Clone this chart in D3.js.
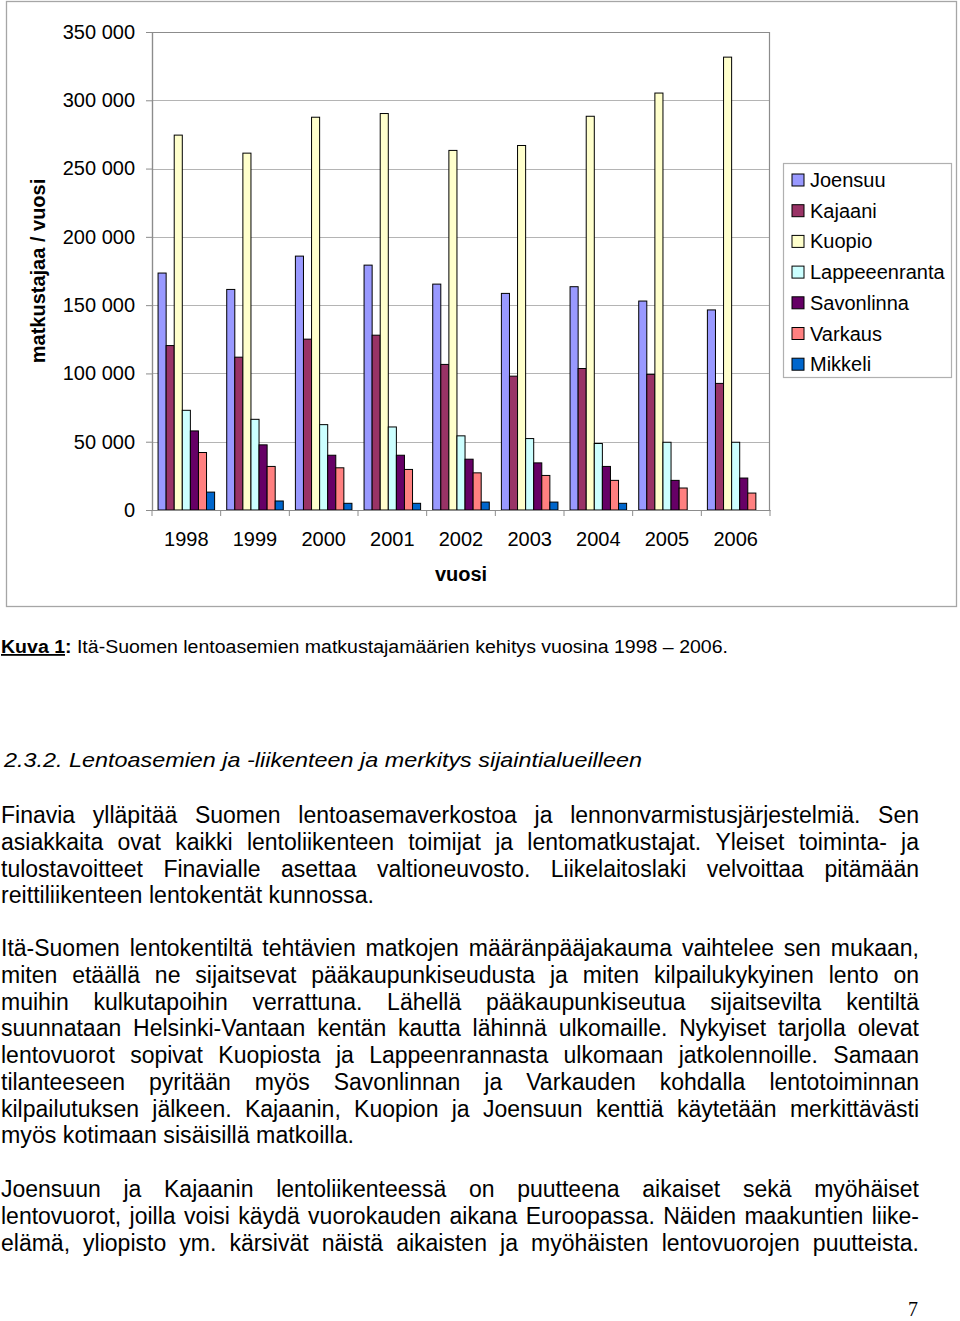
<!DOCTYPE html>
<html>
<head>
<meta charset="utf-8">
<script src="https://cdn.jsdelivr.net/npm/d3@7"></script>
<style>
  html, body { margin: 0; padding: 0; background: #fff; }
  svg { display: block; }
</style>
</head>
<body>
<svg id="page" width="960" height="1321"></svg>
<script>
// ---------- DATA ----------
const years = ["1998","1999","2000","2001","2002","2003","2004","2005","2006"];
const seriesNames = ["Joensuu","Kajaani","Kuopio","Lappeeenranta","Savonlinna","Varkaus","Mikkeli"];
const seriesColors = ["#9999FF","#993366","#FFFFCC","#CCFFFF","#660066","#FF8080","#0066CC"];
const joensuu      = [173500,161500,185900,179300,165400,158600,163500,153000,146500];
const kajaani      = [120400,111900,125100,128000,106600, 98000,103600, 99300, 92700];
const kuopio       = [274500,261300,287600,290300,263300,266900,288300,305300,331600];
const lappeenranta = [ 73000, 66400, 62500, 60800, 54300, 52300, 48700, 49600, 49600];
const savonlinna   = [ 57900, 47700, 40100, 40100, 37200, 34500, 31900, 21700, 23400];
const varkaus      = [ 42100, 31900, 30900, 29700, 27200, 25300, 21700, 16100, 12400];
const mikkeli      = [ 13100,  6600,  4900,  4900,  5800,  5800,  4900,     0,     0];
const yTicks = [0,50000,100000,150000,200000,250000,300000,350000];
const yTitle = "matkustajaa / vuosi";
const xTitle = "vuosi";

const captionBold = "Kuva 1";
const captionRest = "  Itä-Suomen lentoasemien matkustajamäärien kehitys vuosina 1998 – 2006.";
const heading = "2.3.2. Lentoasemien ja -liikenteen ja merkitys sijaintialueilleen";
const para1 = [
  "Finavia ylläpitää Suomen lentoasemaverkostoa ja lennonvarmistusjärjestelmiä. Sen",
  "asiakkaita ovat kaikki lentoliikenteen toimijat ja lentomatkustajat. Yleiset toiminta- ja",
  "tulostavoitteet Finavialle asettaa valtioneuvosto. Liikelaitoslaki velvoittaa pitämään",
  "reittiliikenteen lentokentät kunnossa."
];
const para2 = [
  "Itä-Suomen lentokentiltä tehtävien matkojen määränpääjakauma vaihtelee sen mukaan,",
  "miten etäällä ne sijaitsevat pääkaupunkiseudusta ja miten kilpailukykyinen lento on",
  "muihin kulkutapoihin verrattuna. Lähellä pääkaupunkiseutua sijaitsevilta kentiltä",
  "suunnataan Helsinki-Vantaan kentän kautta lähinnä ulkomaille. Nykyiset tarjolla olevat",
  "lentovuorot sopivat Kuopiosta ja Lappeenrannasta ulkomaan jatkolennoille. Samaan",
  "tilanteeseen pyritään myös Savonlinnan ja Varkauden kohdalla lentotoiminnan",
  "kilpailutuksen jälkeen. Kajaanin, Kuopion ja Joensuun kenttiä käytetään merkittävästi",
  "myös kotimaan sisäisillä matkoilla."
];
const para3 = [
  "Joensuun ja Kajaanin lentoliikenteessä on puutteena aikaiset sekä myöhäiset",
  "lentovuorot, joilla voisi käydä vuorokauden aikana Euroopassa. Näiden maakuntien liike-",
  "elämä, yliopisto ym. kärsivät näistä aikaisten ja myöhäisten lentovuorojen puutteista."
];
const pageNumber = "7";

const seriesValues = [joensuu, kajaani, kuopio, lappeenranta, savonlinna, varkaus, mikkeli];

// ---------- CHART ----------
const svg = d3.select("#page");
const FONT = "'Liberation Sans', Arial, Helvetica, sans-serif";

// outer chart frame
svg.append("rect").attr("x", 6.5).attr("y", 1.5).attr("width", 950).attr("height", 605)
  .attr("fill", "#fff").attr("stroke", "#a6a6a6").attr("stroke-width", 1.3);

const plot = {left: 152, right: 770, top: 32, bottom: 510};
const y = d3.scaleLinear().domain([0, 350000]).range([plot.bottom, plot.top]);
const x0 = d3.scaleBand().domain(years).range([plot.left, plot.right]).paddingInner(0).paddingOuter(0);
const bw = x0.bandwidth();
const barW = bw / 8.5;
const x1 = d3.scaleBand().domain(seriesNames).range([barW * 0.75, bw - barW * 0.75]).padding(0);

// gridlines
svg.append("g").selectAll("line").data(yTicks.filter(d => d > 0 && d < 350000)).join("line")
  .attr("x1", plot.left).attr("x2", plot.right)
  .attr("y1", d => Math.round(y(d)) + 0.5).attr("y2", d => Math.round(y(d)) + 0.5)
  .attr("stroke", "#b4b4b4").attr("stroke-width", 1);

// plot frame (left, top, right)
svg.append("path")
  .attr("d", `M${plot.left + 0.5},${plot.bottom}V${plot.top + 0.5}H${plot.right - 0.5}V${plot.bottom}`)
  .attr("fill", "none").attr("stroke", "#8c8c8c").attr("stroke-width", 1.2);

// bars
const groups = svg.append("g").selectAll("g").data(years).join("g")
  .attr("transform", d => `translate(${x0(d)},0)`);
groups.selectAll("rect")
  .data((yr, i) => seriesNames.map((s, k) => ({s, k, v: seriesValues[k][i]})).filter(d => d.v > 0))
  .join("rect")
  .attr("x", d => x1(d.s))
  .attr("width", x1.bandwidth())
  .attr("y", d => y(d.v))
  .attr("height", d => y(0) - y(d.v))
  .attr("fill", d => seriesColors[d.k])
  .attr("stroke", "#000").attr("stroke-width", 1);

// y axis
const yAxis = d3.axisLeft(y).tickValues(yTicks).tickSize(6).tickPadding(10)
  .tickFormat(d => d === 0 ? "0" : d3.format(",")(d).replace(/,/g, " "));
const gy = svg.append("g").attr("transform", `translate(${plot.left},0)`).call(yAxis);
gy.select(".domain").attr("stroke", "#8c8c8c").attr("stroke-width", 1.2);
gy.selectAll(".tick line").attr("stroke", "#8c8c8c");
gy.selectAll(".tick text").attr("font-family", FONT).attr("font-size", 20).attr("fill", "#000")
  .attr("x", -17);

// x axis
const xAxis = d3.axisBottom(x0).tickSize(0).tickPadding(22);
const gx = svg.append("g").attr("transform", `translate(0,${plot.bottom})`).call(xAxis);
gx.select(".domain").attr("stroke", "#8c8c8c").attr("stroke-width", 1.2);
gx.selectAll(".tick text").attr("font-family", FONT).attr("font-size", 20).attr("fill", "#000");
// x tick marks at band boundaries
gx.append("g").selectAll("line").data(years.concat(["end"])).join("line")
  .attr("x1", (d, i) => plot.left + i * bw).attr("x2", (d, i) => plot.left + i * bw)
  .attr("y1", 0).attr("y2", 6).attr("stroke", "#8c8c8c");

// axis titles
svg.append("text").attr("x", (plot.left + plot.right) / 2).attr("y", 581)
  .attr("text-anchor", "middle").attr("font-family", FONT).attr("font-size", 20)
  .attr("font-weight", "bold").text(xTitle);
svg.append("text").attr("transform", `translate(45,${(plot.top + plot.bottom) / 2}) rotate(-90)`)
  .attr("text-anchor", "middle").attr("font-family", FONT).attr("font-size", 20)
  .attr("font-weight", "bold").text(yTitle);

// legend
const lg = svg.append("g");
lg.append("rect").attr("x", 783.5).attr("y", 163.5).attr("width", 168).attr("height", 214)
  .attr("fill", "#fff").attr("stroke", "#b0b0b0").attr("stroke-width", 1.2);
const items = lg.selectAll("g.item").data(seriesNames).join("g").attr("class", "item")
  .attr("transform", (d, i) => `translate(0,${180 + i * 30.7})`);
items.append("rect").attr("x", 792).attr("y", -6).attr("width", 12).attr("height", 12)
  .attr("fill", (d, i) => seriesColors[i]).attr("stroke", "#000").attr("stroke-width", 1);
items.append("text").attr("x", 810).attr("y", 7).attr("font-family", FONT).attr("font-size", 20)
  .attr("fill", "#000").text(d => d);

// ---------- TEXT BELOW ----------
// caption
const cap = svg.append("text").attr("x", 1).attr("y", 653).attr("font-family", FONT).attr("font-size", 18);
cap.append("tspan").attr("font-weight", "bold").attr("text-decoration", "underline").text(captionBold);
cap.append("tspan").attr("font-weight", "bold").text(":");
cap.append("tspan").text(captionRest);
cap.attr("textLength", 727).attr("lengthAdjust", "spacingAndGlyphs");

// heading
const hd = svg.append("text").attr("x", 4).attr("y", 767).attr("font-family", FONT)
  .attr("font-size", 21).attr("font-style", "italic").text(heading);
hd.attr("textLength", 638).attr("lengthAdjust", "spacingAndGlyphs");

// paragraphs
const BODY_SIZE = 23;
const RIGHT = 919;
const LINE = 26.75;
function drawLine(str, baseline, justify, endX) {
  const words = str.split(/\s+/);
  const g = svg.append("g");
  const nodes = words.map(w => g.append("text").attr("y", baseline).attr("font-family", FONT)
    .attr("font-size", BODY_SIZE).attr("fill", "#000").text(w));
  const widths = nodes.map(n => n.node().getComputedTextLength());
  const sum = d3.sum(widths);
  const tmp = g.append("text").attr("font-family", FONT).attr("font-size", BODY_SIZE).text("a a");
  const tmp2 = g.append("text").attr("font-family", FONT).attr("font-size", BODY_SIZE).text("aa");
  const spaceW = tmp.node().getComputedTextLength() - tmp2.node().getComputedTextLength();
  tmp.remove(); tmp2.remove();
  let scale = 1, gap = spaceW;
  if (justify) {
    const target = RIGHT - 1;
    gap = (target - sum) / (words.length - 1);
    if (gap < spaceW * 0.8) { scale = (target - spaceW * 0.8 * (words.length - 1)) / sum; gap = spaceW * 0.8; }
  } else {
    const natural = sum + spaceW * (words.length - 1);
    scale = (endX - 1) / natural;
    gap = spaceW * scale;
  }
  let cx = 1;
  nodes.forEach((n, i) => {
    n.attr("x", cx);
    if (scale !== 1) n.attr("textLength", widths[i] * scale).attr("lengthAdjust", "spacingAndGlyphs");
    cx += widths[i] * scale + gap;
  });
}
function drawPara(lines, firstBaseline, lastJustified, lastEnd) {
  lines.forEach((l, i) => {
    const last = i === lines.length - 1;
    drawLine(l, firstBaseline + i * LINE, !last || lastJustified, lastEnd);
  });
}
drawPara(para1, 823, false, 374);
drawPara(para2, 956, false, 354);
drawPara(para3, 1197, true, RIGHT);

// page number
svg.append("text").attr("x", 913).attr("y", 1316).attr("text-anchor", "middle")
  .attr("font-family", "'Liberation Serif', 'Times New Roman', serif").attr("font-size", 20)
  .text(pageNumber);
</script>
</body>
</html>
